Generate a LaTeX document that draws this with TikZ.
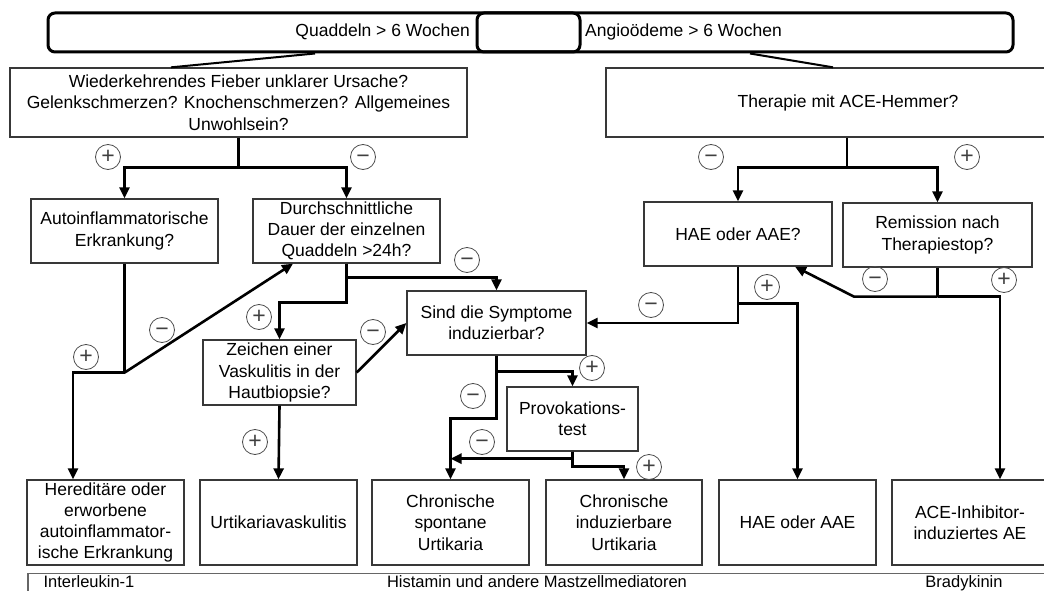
\documentclass[tikz,border=0pt]{standalone}
\usepackage{fontspec}
\setmainfont{Liberation Sans}
\usetikzlibrary{arrows.meta,calc}
\newcommand\sgnminus{\vphantom{+}−}
\begin{document}
\begin{tikzpicture}[x=1pt,y=-1pt,
  box/.style={draw=black!78, line width=1.3pt, rectangle, inner sep=0pt, align=center, font=\fontsize{17.5}{21.3}\selectfont},
  topbox/.style={draw=black, line width=3pt, rounded corners=7pt, inner sep=0pt, minimum height=39pt},
  lbl/.style={inner sep=0pt, font=\fontsize{17.5}{21.3}\selectfont},
  btxt/.style={inner sep=0pt, font=\fontsize{16.5}{18}\selectfont},
  conn/.style={line width=2.6pt, black},
  arr/.style={conn, -{Triangle[length=11pt,width=10pt]}},
  thinconn/.style={line width=2pt, black},
  sgn/.style={circle, draw=black!70, line width=0.8pt, minimum size=25pt, inner sep=0pt, text=black!75, font=\fontsize{23}{23}\selectfont}
]
\useasboundingbox (0,0) rectangle (1044,591);
\clip (0,0) rectangle (1044,591);

% top bar
\node[topbox, minimum width=532pt] (quad) at (314,32.5) {};
\node[topbox, minimum width=536pt] (angio) at (745,32.5) {};
\node[lbl, anchor=east] (quadt) at (470,32) {Quaddeln > 6 Wochen};
\node[lbl, anchor=west] (angiot) at (585,32) {Angioödeme > 6 Wochen};

% boxes
\node[box, minimum width=457pt, minimum height=69pt] (wied) at (238.5,102.5) {Wiederkehrendes Fieber unklarer Ursache?\\Gelenkschmerzen? Knochenschmerzen? Allgemeines\\Unwohlsein?};
\node[box, minimum width=484pt, minimum height=69pt] (ther) at (848,102.5) {Therapie mit ACE-Hemmer?};
\node[box, minimum width=187pt, minimum height=64pt] (auto) at (124.5,231) {Autoinflammatorische\\Erkrankung?};
\node[box, minimum width=187pt, minimum height=64pt] (durch) at (346.5,231) {Durchschnittliche\\Dauer der einzelnen\\Quaddeln >24h?};
\node[box, minimum width=188pt, minimum height=64pt] (haeq) at (738,234) {HAE oder AAE?};
\node[box, minimum width=189pt, minimum height=64pt] (rem) at (937.5,235) {Remission nach\\Therapiestop?};
\node[box, minimum width=179pt, minimum height=64pt] (sind) at (496.5,323) {Sind die Symptome\\induzierbar?};
\node[box, minimum width=153pt, minimum height=65pt] (zeich) at (279.5,372.5) {Zeichen einer\\Vaskulitis in der\\Hautbiopsie?};
\node[box, minimum width=131pt, minimum height=64pt] (prov) at (572.5,419) {Provokations-\\test};
\node[box, minimum width=157pt, minimum height=85pt] (hered) at (105.5,522.5) {Hereditäre oder\\erworbene\\autoinflammator-\\ische Erkrankung};
\node[box, minimum width=157pt, minimum height=85pt] (urtv) at (278.5,522.5) {Urtikariavaskulitis};
\node[box, minimum width=157pt, minimum height=85pt] (csu) at (450.5,522.5) {Chronische\\spontane\\Urtikaria};
\node[box, minimum width=156pt, minimum height=85pt] (cindu) at (624,522.5) {Chronische\\induzierbare\\Urtikaria};
\node[box, minimum width=157pt, minimum height=85pt] (hae) at (797.5,522.5) {HAE oder AAE};
\node[box, minimum width=156pt, minimum height=85pt] (ace) at (970,522.5) {ACE-Inhibitor-\\induziertes AE};

% bottom bar
\node[draw=black!60, line width=1.8pt, minimum width=1030pt, minimum height=40pt, inner sep=0pt, anchor=north west] (bbar) at (27,572.5) {};
\node[btxt, anchor=base] (il) at (89,587) {Interleukin-1};
\node[btxt, anchor=base] (hist) at (537,587) {Histamin und andere Mastzellmediatoren};
\node[btxt, anchor=base] (brad) at (964,587) {Bradykinin};

% top connectors
\draw[thinconn] ([xshift=1pt]quad.south) -- ([xshift=-67.5pt]wied.north);
\draw[thinconn] ([xshift=5pt]angio.south) -- ([xshift=-15pt]ther.north);

% wied branches
\coordinate (wj) at ($(wied.south)+(0,30)$);
\draw[conn] (wied.south) -- (wj);
\draw[arr] (wj) -| (auto.north);
\draw[arr] (wj) -| (durch.north);

% ther branches
\coordinate (tj) at ($(ther.south)+(0,30)$);
\draw[conn] ([xshift=-1pt]ther.south) -- ([xshift=-1pt]tj);
\draw[arr] ([xshift=-1pt]tj) -| (haeq.north);
\draw[arr] ([xshift=-1pt]tj) -| (rem.north);

% auto
\coordinate (aj) at ($(auto.south)+(0,109)$);
\draw[conn] (auto.south) -- (aj);
\draw[arr] (aj) -| ([xshift=-32.5pt]hered.north);
\draw[arr] (aj) -- ([xshift=-53.5pt]durch.south);

% durch
\draw[arr] (durch.south) -- ++(0,14) -| (sind.north);
\draw[arr] (durch.south) -- ++(0,39) -| (zeich.north);

% zeich
\draw[arr] (zeich.east) -- (sind.west);
\draw[arr] (zeich.south) -- (urtv.north);

% haeq
\draw[arr] (haeq.south) |- (sind.east);
\draw[arr] (haeq.south) -- ++(0,37) -| (hae.north);

% rem
\coordinate (rj) at ($(rem.south)+(0,29)$);
\draw[conn] (rem.south) -- (rj);
\draw[arr] (rj) -- ++(-83.5,0) -- ([xshift=57pt]haeq.south);
\draw[arr] (rj) -| ([xshift=30pt]ace.north);

% sind
\draw[arr] (sind.south) -- ++(0,16) -| (prov.north);
\draw[arr] (sind.south) -- ++(0,63) -| (csu.north);

% prov
\coordinate (pm) at ($(prov.south)+(0,7)$);
\draw[arr] (prov.south) -- (pm) -- (pm -| csu.north);
\draw[arr] (prov.south) -- ++(0,15) -| (cindu.north);

% signs
\node[sgn] (s1) at (108,157) {+};
\node[sgn] (s2) at (363,157) {\sgnminus};
\node[sgn] (s3) at (711,157) {\sgnminus};
\node[sgn] (s4) at (967,157) {+};
\node[sgn] (s5) at (162,330) {\sgnminus};
\node[sgn] (s6) at (86,357) {+};
\node[sgn] (s7) at (467,260) {\sgnminus};
\node[sgn] (s8) at (259,317) {+};
\node[sgn] (s9) at (373,332) {\sgnminus};
\node[sgn] (s10) at (651,305) {\sgnminus};
\node[sgn] (s11) at (767,287) {+};
\node[sgn] (s12) at (875,279) {\sgnminus};
\node[sgn] (s13) at (1004,280) {+};
\node[sgn] (s14) at (592,368) {+};
\node[sgn] (s15) at (473,396) {\sgnminus};
\node[sgn] (s16) at (482,442) {\sgnminus};
\node[sgn] (s17) at (649,467) {+};
\node[sgn] (s18) at (255,442) {+};
\end{tikzpicture}
\end{document}
